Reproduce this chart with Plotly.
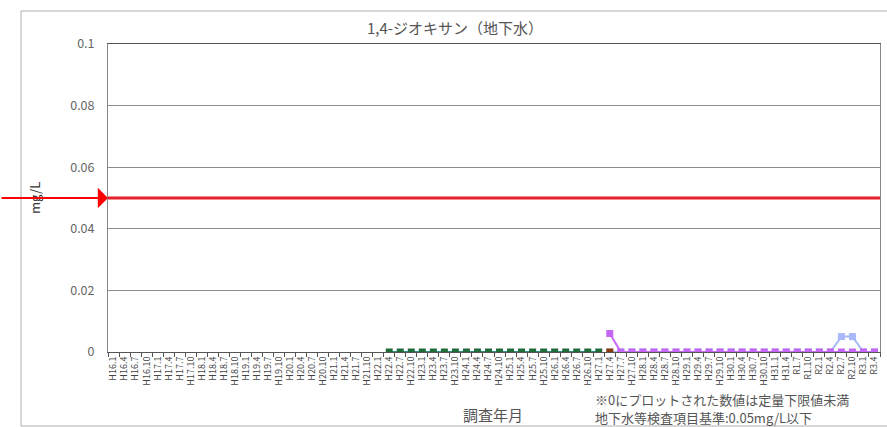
import plotly.graph_objects as go

# Survey dates (quarterly, Heisei -> Reiwa)
LABELS = [
    "H16.1", "H16.4", "H16.7", "H16.10", "H17.1", "H17.4", "H17.7", "H17.10",
    "H18.1", "H18.4", "H18.7", "H18.10", "H19.1", "H19.4", "H19.7", "H19.10",
    "H20.1", "H20.4", "H20.7", "H20.10", "H21.1", "H21.4", "H21.7", "H21.10",
    "H22.1", "H22.4", "H22.7", "H22.10", "H23.1", "H23.4", "H23.7", "H23.10",
    "H24.1", "H24.4", "H24.7", "H24.10", "H25.1", "H25.4", "H25.7", "H25.10",
    "H26.1", "H26.4", "H26.7", "H26.10", "H27.1", "H27.4", "H27.7", "H27.10",
    "H28.1", "H28.4", "H28.7", "H28.10", "H29.1", "H29.4", "H29.7", "H29.10",
    "H30.1", "H30.4", "H30.7", "H30.10", "H31.1", "H31.4", "R1.7", "R1.10",
    "R2.1", "R2.4", "R2.7", "R2.10", "R3.1", "R3.4",
]

# Series: well A (green), well B (brown), well C (magenta), well D (light blue)
GREEN_X = ["H22.4", "H22.7", "H22.10", "H23.1", "H23.4", "H23.7", "H23.10",
           "H24.1", "H24.4", "H24.7", "H24.10", "H25.1", "H25.4", "H25.7",
           "H25.10", "H26.1", "H26.4", "H26.7", "H26.10", "H27.1"]
GREEN_Y = [0, 0, 0, 0, 0, 0, 0, 0, 0, 0, 0, 0, 0, 0, 0, 0, 0, 0, 0, 0]

BROWN_X = ["H27.4"]
BROWN_Y = [0]

MAGENTA_X = ["H27.4", "H27.7", "H27.10", "H28.1", "H28.4", "H28.7", "H28.10",
             "H29.1", "H29.4", "H29.7", "H29.10", "H30.1", "H30.4", "H30.7",
             "H30.10", "H31.1", "H31.4", "R1.7", "R1.10", "R2.1", "R2.4",
             "R2.7", "R2.10", "R3.1", "R3.4"]
MAGENTA_Y = [0.006, 0, 0, 0, 0, 0, 0, 0, 0, 0, 0, 0, 0, 0, 0, 0, 0, 0, 0,
             0, 0, 0, 0, 0, 0]

LBLUE_X = ["H27.4", "H27.7", "H27.10", "H28.1", "H28.4", "H28.7", "H28.10",
           "H29.1", "H29.4", "H29.7", "H29.10", "H30.1", "H30.4", "H30.7",
           "H30.10", "H31.1", "H31.4", "R1.7", "R1.10", "R2.1", "R2.4",
           "R2.7", "R2.10", "R3.1", "R3.4"]
LBLUE_Y = [0, 0, 0, 0, 0, 0, 0, 0, 0, 0, 0, 0, 0, 0, 0, 0, 0, 0, 0,
           0, 0, 0.005, 0.005, 0, 0]

STANDARD = 0.05
Y_TICKS = [0, 0.02, 0.04, 0.06, 0.08, 0.1]

FONT = "Noto Sans CJK JP"
TXT = "#555555"

# plot area: x 108..880, y 44..352 (px)
PX_L, PX_R, PX_T, PX_B = 108, 880, 44, 352
W, H = 887, 427


def px(x):
    return (x - PX_L) / (PX_R - PX_L)


def py(y):
    return (PX_B - y) / (PX_B - PX_T)


fig = go.Figure()

fig.add_trace(go.Scatter(x=LBLUE_X, y=LBLUE_Y, mode="lines+markers",
                         line=dict(color="#A8B8F8", width=2),
                         marker=dict(symbol="square", size=7, color="#A8B8F8")))
fig.add_trace(go.Scatter(x=GREEN_X, y=GREEN_Y, mode="lines+markers",
                         line=dict(color="#2A8C8C", width=2),
                         marker=dict(symbol="square", size=7, color="#1F6B3A")))
fig.add_trace(go.Scatter(x=MAGENTA_X, y=MAGENTA_Y, mode="lines+markers",
                         line=dict(color="#CC66FF", width=2),
                         marker=dict(symbol="square", size=7, color="#C466F4")))
fig.add_trace(go.Scatter(x=BROWN_X, y=BROWN_Y, mode="markers",
                         marker=dict(symbol="square", size=7, color="#8B3A10")))

# chart outer border
fig.add_shape(type="rect", xref="paper", yref="paper",
              x0=px(21), x1=px(890), y0=py(426), y1=py(11),
              line=dict(color="#B0B0B0", width=1), layer="below")

# standard line 0.05 mg/L
fig.add_shape(type="line", xref="paper", yref="y", x0=0, x1=1,
              y0=STANDARD, y1=STANDARD,
              line=dict(color="#E8202A", width=3), layer="above")

annotations = [
    dict(text="1,4-ジオキサン（地下水）", xref="paper", yref="paper",
         x=px(455), y=py(28), yanchor="middle", showarrow=False,
         font=dict(size=15, color=TXT, family=FONT)),
    dict(text="mg/L", xref="paper", yref="paper", x=px(34), y=0.5,
         xanchor="center", yanchor="middle",
         textangle=-90, showarrow=False, font=dict(size=13, color="#333", family=FONT)),
    dict(text="調査年月", xref="paper", yref="paper", x=px(493), y=py(414),
         yanchor="middle", showarrow=False,
         font=dict(size=15, color=TXT, family=FONT)),
    dict(text="※0にプロットされた数値は定量下限値未満",
         xref="paper", yref="paper", x=px(593), y=py(399), xanchor="left",
         yanchor="middle", showarrow=False,
         font=dict(size=13, color=TXT, family=FONT)),
    dict(text="地下水等検査項目基準:0.05mg/L以下",
         xref="paper", yref="paper", x=px(593), y=py(417.5), xanchor="left",
         yanchor="middle", showarrow=False,
         font=dict(size=13, color=TXT, family=FONT)),
    dict(text="", xref="paper", yref="y", x=0, y=STANDARD, ax=-108, ay=0,
         axref="pixel", ayref="pixel", showarrow=True, arrowhead=1,
         arrowsize=1.7, arrowwidth=2, arrowcolor="#FF0000", standoff=0),
]

fig.update_layout(
    width=W, height=H,
    margin=dict(l=PX_L, r=W - PX_R, t=PX_T, b=H - PX_B),
    paper_bgcolor="white", plot_bgcolor="white",
    showlegend=False,
    font=dict(family=FONT, color=TXT),
    annotations=annotations,
)

fig.update_xaxes(
    type="category", categoryorder="array", categoryarray=LABELS,
    range=[-0.5, len(LABELS) - 0.5],
    tickmode="array", tickvals=LABELS, ticktext=LABELS,
    tickangle=-90, tickfont=dict(size=9, color="#444", family=FONT),
    ticks="outside", ticklen=4, tickcolor="#555", tickson="boundaries",
    showline=True, linecolor="#555", linewidth=1, mirror=True,
    showgrid=False, zeroline=False, automargin=False,
)
fig.update_yaxes(
    range=[0, 0.1], tickvals=Y_TICKS,
    tickfont=dict(size=12.5, color="#666", family=FONT),
    ticks="", ticklabelstandoff=10,
    showline=True, linecolor="#888", linewidth=1, mirror=True,
    showgrid=True, gridcolor="#8C8C8C", gridwidth=1, zeroline=False,
    automargin=False,
)

fig.write_html("out.html", config={"displayModeBar": False},
               post_script="document.body.style.margin='0';document.body.style.overflow='hidden';")
